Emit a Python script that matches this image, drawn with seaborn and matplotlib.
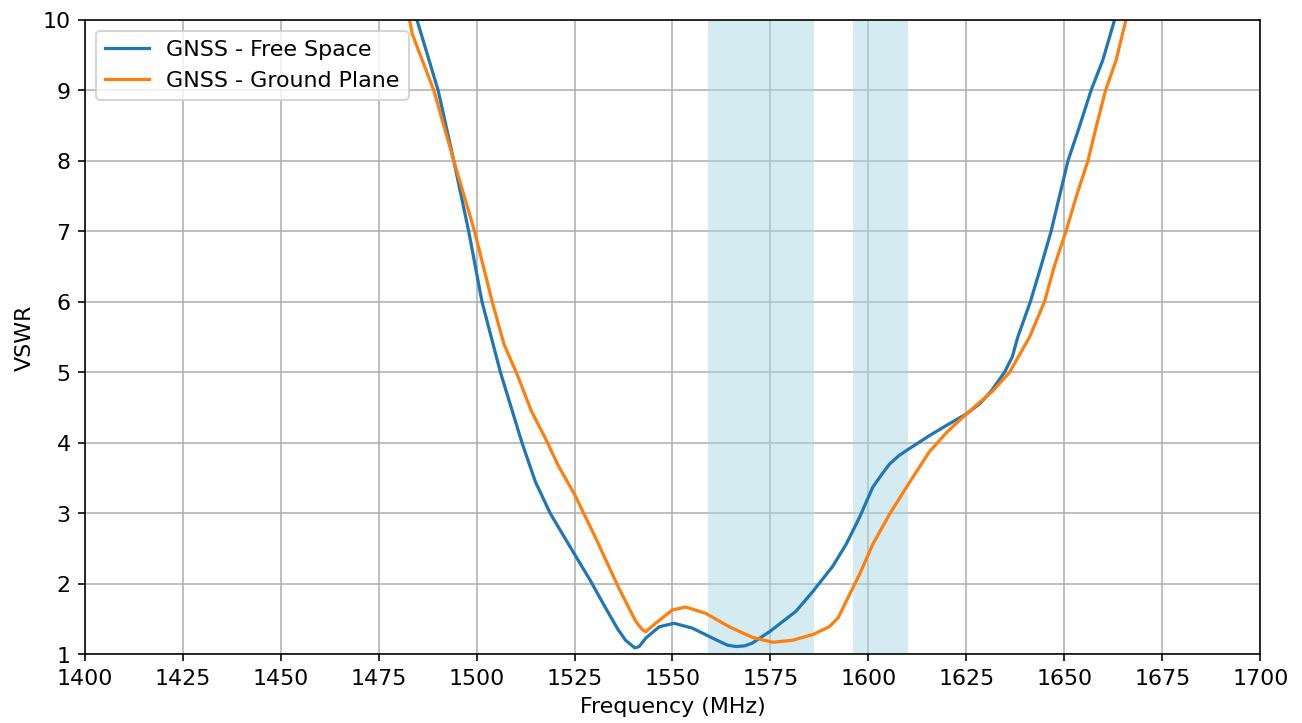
import pandas as pd
import seaborn as sns
import matplotlib
matplotlib.use("Agg")
import matplotlib.pyplot as plt

# GNSS antenna VSWR

freq_free = [1484.8, 1487.5, 1490.2, 1494.2, 1498.0, 1501.4, 1506.1, 1511.6, 1515.0, 1518.8,
             1522.0, 1525.0, 1529.0, 1532.9, 1536.0, 1538.0, 1540.4, 1541.5, 1543.2, 1546.6,
             1550.4, 1555.1, 1560.2, 1564.0, 1566.2, 1568.5, 1570.4, 1575.0, 1581.5, 1585.8,
             1590.9, 1594.3, 1597.7, 1601.1, 1603.5, 1605.4, 1607.8, 1610.5, 1615.5, 1620.0,
             1625.0, 1628.5, 1631.4, 1634.7, 1636.7, 1638.1, 1641.3, 1644.0, 1646.6, 1648.7,
             1650.9, 1653.8, 1656.8, 1659.8, 1662.8]
vswr_free = [10.0, 9.5, 9.0, 8.0, 7.0, 6.0, 5.0, 4.0, 3.45, 3.0,
             2.7, 2.42, 2.05, 1.66, 1.36, 1.2, 1.09, 1.11, 1.23, 1.39,
             1.44, 1.37, 1.23, 1.13, 1.11, 1.12, 1.16, 1.33, 1.61, 1.89,
             2.25, 2.56, 2.94, 3.37, 3.56, 3.70, 3.82, 3.92, 4.10, 4.25,
             4.41, 4.56, 4.74, 5.0, 5.22, 5.5, 6.0, 6.5, 7.0, 7.49,
             8.0, 8.48, 9.0, 9.43, 10.0]

freq_ground = [1482.9, 1483.6, 1486.0, 1489.1, 1494.2, 1499.5, 1504.0, 1507.0, 1510.5, 1514.0,
               1517.6, 1521.0, 1525.0, 1530.4, 1536.3, 1540.6, 1542.3, 1543.2, 1545.7, 1550.0,
               1553.4, 1558.5, 1564.5, 1570.4, 1575.6, 1580.7, 1585.8, 1590.0, 1592.3, 1594.3,
               1597.7, 1601.1, 1605.4, 1609.7, 1615.5, 1620.0, 1625.0, 1631.8, 1636.0, 1641.1,
               1644.9, 1647.4, 1650.4, 1653.0, 1656.0, 1658.1, 1660.5, 1663.2, 1665.7]
vswr_ground = [10.0, 9.8, 9.45, 9.0, 8.0, 7.0, 6.0, 5.4, 4.95, 4.45,
               4.06, 3.66, 3.27, 2.65, 1.94, 1.47, 1.35, 1.32, 1.44, 1.63,
               1.67, 1.58, 1.39, 1.24, 1.17, 1.20, 1.28, 1.39, 1.52, 1.75,
               2.13, 2.56, 2.99, 3.37, 3.87, 4.15, 4.41, 4.74, 5.0, 5.5,
               6.0, 6.5, 7.0, 7.49, 8.0, 8.48, 9.0, 9.43, 10.0]

bands = [(1559, 1586), (1596, 1610)]

df = pd.concat([
    pd.DataFrame({"freq": freq_free, "vswr": vswr_free, "serie": "GNSS - Free Space"}),
    pd.DataFrame({"freq": freq_ground, "vswr": vswr_ground, "serie": "GNSS - Ground Plane"}),
])

plt.rcParams["font.size"] = 11

fig, ax = plt.subplots(figsize=(9, 5), dpi=144.67)
fig.subplots_adjust(left=0.065, right=0.968, top=0.972, bottom=0.095)

for b in bands:
    ax.axvspan(b[0], b[1], color="lightblue", alpha=0.5, lw=0)

sns.lineplot(data=df, x="freq", y="vswr", hue="serie", estimator=None,
             palette=["tab:blue", "tab:orange"], lw=1.6, ax=ax)

ax.set_xlim(1400, 1700)
ax.set_ylim(1, 10)
ax.set_xticks(range(1400, 1701, 25))
ax.set_yticks(range(1, 11))
ax.grid(True, color="#b0b0b0", lw=0.8)
ax.set_axisbelow(True)
ax.set_xlabel("Frequency (MHz)")
ax.set_ylabel("VSWR")
ax.legend(loc="upper left", title=None)

plt.savefig("out.png", dpi=144.67)
